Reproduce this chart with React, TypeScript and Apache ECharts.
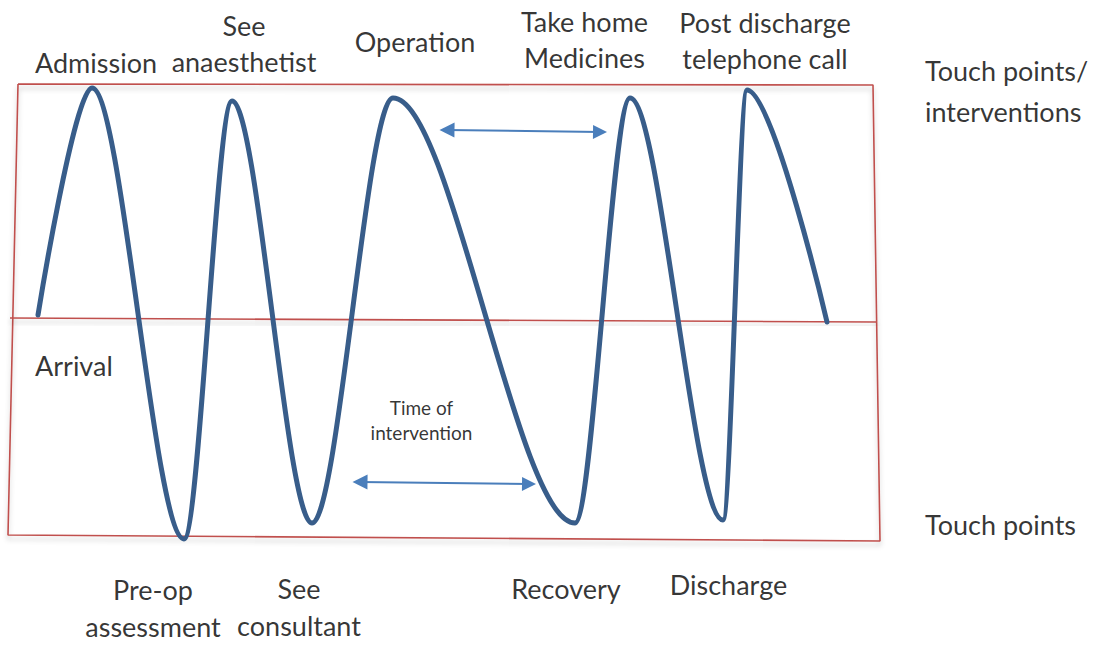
import React, { useEffect, useRef } from "react";
import * as echarts from "echarts";

// Diagram coordinate space (x to the right, y downward)
const X_MAX = 1099;
const Y_MAX = 646;

// Key points of the journey wave: start, peaks and troughs, end
const wavePoints: [number, number][] = [
  [38, 315],
  [92, 88],
  [184, 539],
  [232, 101],
  [312, 523],
  [393, 98],
  [575, 523],
  [630, 98],
  [723, 520],
  [747, 90],
  [827, 322],
];

// Red frame (closed outline) and the middle dividing line
const frameOutline: [number, number][] = [
  [18, 84],
  [873, 85],
  [880, 541],
  [8, 535],
  [18, 84],
];
const midLine: [number, number][] = [
  [10, 318],
  [877, 322],
];

// Double-headed arrows (centres of the arrow heads)
const arrowSegments: [number, number][][] = [
  [
    [447, 130],
    [600, 132],
  ],
  [
    [360, 482],
    [529, 484],
  ],
];

// Stage labels: [x, y, text]
const topLabels: [number, number, string][] = [
  [96, 62, "Admission"],
  [244, 43.5, "See\nanaesthetist"],
  [415, 41, "Operation"],
  [584.5, 39.5, "Take home\nMedicines"],
  [765, 40, "Post discharge\ntelephone call"],
];
const bottomLabels: [number, number, string][] = [
  [153, 608, "Pre-op\nassessment"],
  [299, 606.5, "See\nconsultant"],
  [566, 588.5, "Recovery"],
  [728.5, 584, "Discharge"],
];
const sideLabels: [number, number, string][] = [
  [925, 91, "Touch points/\ninterventions"],
  [925, 524, "Touch points"],
  [35, 365, "Arrival"],
];
const noteLabels: [number, number, string][] = [[421.5, 420, "Time of\nintervention"]];

const FONT = "Lato, 'Open Sans', sans-serif";

function labelSeries(
  name: string,
  items: [number, number, string][],
  align: "left" | "center",
  fontSize: number,
  lineHeight: number
) {
  return {
    name,
    type: "scatter",
    symbolSize: 0,
    silent: true,
    data: items.map((d) => ({ value: [d[0], d[1]], name: d[2] })),
    label: {
      show: true,
      position: "inside",
      formatter: "{b}",
      color: "#000000",
      fontFamily: FONT,
      fontSize,
      lineHeight,
      align,
      verticalAlign: "middle",
    },
    z: 10,
  };
}

export default function App() {
  const ref = useRef<HTMLDivElement>(null);

  useEffect(() => {
    if (!ref.current) return;
    const chart = echarts.init(ref.current, undefined, { renderer: "svg" });
    const frameStyle = {
      color: "#c0504d",
      width: 1.6,
      shadowColor: "rgba(0,0,0,0.22)",
      shadowBlur: 5,
      shadowOffsetY: 4,
    };
    chart.setOption({
      animation: false,
      backgroundColor: "#ffffff",
      grid: { left: 0, right: 0, top: 0, bottom: 0 },
      xAxis: { type: "value", min: 0, max: X_MAX, show: false },
      yAxis: { type: "value", min: 0, max: Y_MAX, inverse: true, show: false },
      series: [
        {
          name: "frame",
          type: "line",
          data: frameOutline,
          symbol: "none",
          silent: true,
          lineStyle: frameStyle,
          z: 1,
        },
        {
          name: "midline",
          type: "line",
          data: midLine,
          symbol: "none",
          silent: true,
          lineStyle: frameStyle,
          z: 1,
        },
        {
          name: "journey",
          type: "line",
          data: wavePoints,
          symbol: "none",
          smooth: 0.32,
          smoothMonotone: "x",
          silent: true,
          lineStyle: { color: "#385d8a", width: 5, cap: "round", join: "round" },
          z: 3,
        },
        {
          name: "arrows",
          type: "lines",
          coordinateSystem: "cartesian2d",
          silent: true,
          symbol: ["triangle", "triangle"],
          symbolSize: [15, 14],
          lineStyle: { color: "#4a7ebb", width: 2, opacity: 1 },
          data: arrowSegments.map((c) => ({ coords: c })),
          z: 4,
        },
        labelSeries("top", topLabels, "center", 27, 36),
        labelSeries("bottom", bottomLabels, "center", 27, 37),
        labelSeries("side", sideLabels, "left", 27, 41),
        labelSeries("note", noteLabels, "center", 19, 25),
      ],
    });
    return () => chart.dispose();
  }, []);

  return (
    <div
      ref={ref}
      style={{ position: "fixed", left: 0, top: 0, width: X_MAX, height: Y_MAX, background: "#fff" }}
    />
  );
}
